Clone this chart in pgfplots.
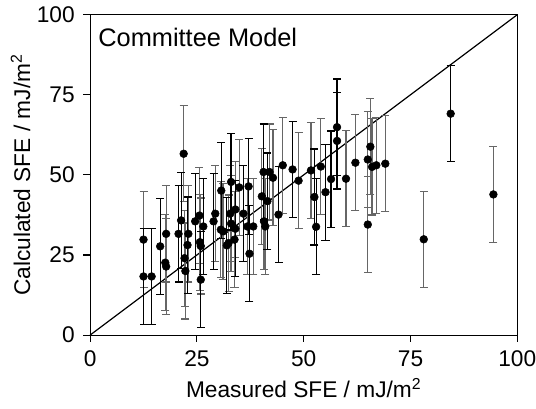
\documentclass[border=0pt]{standalone}
\usepackage{fontspec}
\setmainfont{Liberation Sans}
\usepackage{pgfplots}
\pgfplotsset{compat=1.18}
\begin{document}
\begin{tikzpicture}
\begin{axis}[
  scale only axis,
  width=320pt, height=240pt,
  xmin=0, xmax=100, ymin=0, ymax=100,
  xtick={0,25,50,75,100}, ytick={0,25,50,75,100},
  xtick pos=left, ytick pos=left,
  tick align=outside,
  major tick length=5pt,
  axis line style={line width=0.8pt},
  every tick/.style={black, line width=0.8pt},
  tick label style={font=\fontsize{17}{20}\selectfont, /pgf/number format/assume math mode=true},
  xticklabel style={yshift=-3pt},
  yticklabel style={xshift=-3pt},
  label style={font=\fontsize{17}{20}\selectfont},
  xlabel={Measured SFE / mJ/m\textsuperscript{2}},
  ylabel={Calculated SFE / mJ/m\textsuperscript{2}},
  xlabel style={yshift=-2pt},
  ylabel style={yshift=-2pt},
  clip=false,
]
\coordinate (O) at (rel axis cs:0,0);
\coordinate (T) at (rel axis cs:1,1);
\addplot[black, line width=0.9pt, no marks] coordinates {(0,0) (100,100)};
% gray error bars
\addplot[only marks, mark=*, mark size=2.9pt, black,
  error bars/.cd, y dir=both, y fixed=15,
  error bar style={black!60, line width=0.9pt},
  error mark options={rotate=90, black!60, mark size=3pt, line width=0.9pt}]
  coordinates {
  (12.5,29.8) (17.8,31.6) (17.6,22.6) (17.8,21.4) (21.9,56.6) (23.0,31.6)
  (22.1,24.0) (22.3,20.0) (25.6,37.3) (25.7,29.0) (25.9,27.8) (29.3,37.9)
  (30.6,32.9) (31.1,32.4) (32.4,28.7) (32.8,37.9) (33.0,34.8) (34.0,39.2)
  (33.8,29.8) (34.9,46.1) (36.8,33.9) (38.2,33.9) (40.2,43.3) (42.0,50.9)
  (42.8,49.1) (40.7,35.5) (41.0,33.9) (45.1,53.0) (48.8,48.2) (51.7,51.4)
  (54.0,52.6) (59.9,48.8) (62.1,53.8) (65.0,54.8) (65.6,58.8) (66.0,52.5)
  (67.0,53.0) (65.0,34.5) (69.1,53.5) (78.1,29.9) (94.4,43.9)
  };
% black error bars
\addplot[only marks, mark=*, mark size=2.9pt, black,
  error bars/.cd, y dir=both, y fixed=15,
  error bar style={black, line width=0.9pt},
  error mark options={rotate=90, black, mark size=3pt, line width=0.9pt}]
  coordinates {
  (12.5,18.3) (14.4,18.3) (16.4,27.7) (20.7,31.6) (21.3,35.8) (22.8,28.1)
  (24.6,35.5) (25.9,17.3) (26.5,33.9) (28.9,35.5) (30.7,45.1) (32.0,28.0)
  (33.0,47.8) (34.0,33.2) (35.9,37.9) (37.1,46.4) (37.3,25.4) (40.6,50.9)
  (41.5,41.8) (44.1,37.6) (47.4,51.7) (52.5,43.1) (52.9,33.8) (55.1,44.6)
  (56.4,48.7) (57.8,64.9) (57.8,60.6) (84.4,69.1)
  };
\node[anchor=north west, inner sep=0pt, font=\fontsize{19}{22}\selectfont]
  at ([xshift=6pt, yshift=-10pt]rel axis cs:0,1) {Committee Model};
\end{axis}
\pgfresetboundingbox
\path[use as bounding box] ([shift={(-67.5pt,-55pt)}]O) rectangle ([shift={(14pt,11pt)}]T);
\end{tikzpicture}
\end{document}
